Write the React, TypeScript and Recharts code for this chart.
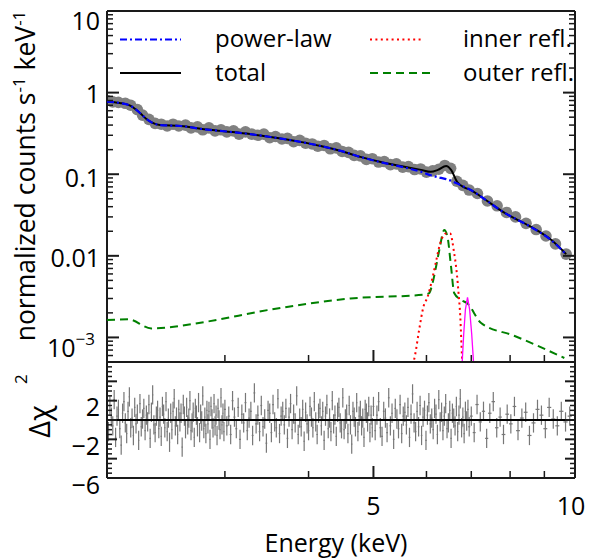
import React from "react";
import {
  ComposedChart, Line, Scatter, XAxis, YAxis, ErrorBar, ReferenceLine, Customized,
} from "recharts";

const FONT = "'Open Sans', sans-serif";
const INK = "#1a1a1a";

// x axis, energy in keV (log)
const xTicks = [2, 3, 4, 5, 6, 7, 8, 9, 10];
const xMajor = [2, 5, 10];
const xLabels = [5, 10];

// upper panel y axis (log)
const yDecades = [0.001, 0.01, 0.1, 1, 10];
const yLabelVals = [10, 1, 0.1, 0.01, 0.001];
const yLabelText = ["10", "1", "0.1", "0.01", "10^-3"];

// lower panel y axis
const resLabelVals = [2, -2, -6];
const resLabelText = ["2", "\u22122", "\u22126"];

// model curves (keV, counts/s/keV)
const modelE = [2.0, 2.09, 2.17, 2.24, 2.29, 2.34, 2.40, 2.58, 2.76, 3.06, 3.27, 3.51, 3.89, 4.17, 4.47, 4.78, 5.13, 5.49, 5.89, 6.09, 6.24, 6.42, 6.53, 6.67, 6.83, 6.99, 7.24, 7.83, 8.60, 9.21, 9.70];
const totalV = [0.775, 0.747, 0.687, 0.563, 0.476, 0.425, 0.400, 0.390, 0.360, 0.330, 0.310, 0.286, 0.249, 0.222, 0.193, 0.163, 0.141, 0.126, 0.113, 0.107, 0.113, 0.126, 0.113, 0.080, 0.069, 0.064, 0.053, 0.034, 0.0226, 0.0157, 0.0105];
const powerLawV = [0.775, 0.747, 0.687, 0.563, 0.476, 0.425, 0.400, 0.390, 0.360, 0.330, 0.310, 0.286, 0.249, 0.222, 0.193, 0.163, 0.140, 0.124, 0.107, 0.097, 0.092, 0.087, 0.083, 0.077, 0.070, 0.064, 0.053, 0.034, 0.0225, 0.0156, 0.0104];

const outerE = [2.00, 2.15, 2.33, 2.79, 3.47, 4.62, 5.95, 6.05, 6.13, 6.20, 6.27, 6.38, 6.45, 6.53, 6.60, 6.75, 6.91, 7.24, 8.11, 9.64];
const outerV = [0.00163, 0.00167, 0.00129, 0.00154, 0.00216, 0.00300, 0.00335, 0.00346, 0.0047, 0.0073, 0.0117, 0.0207, 0.0171, 0.0073, 0.0035, 0.0029, 0.0026, 0.00150, 0.00105, 0.00056];

const innerE = [5.70, 5.77, 5.85, 5.94, 6.02, 6.13, 6.20, 6.29, 6.42, 6.51, 6.59, 6.66, 6.70, 6.74, 6.78, 6.80];
const innerV = [0.0004, 0.00061, 0.00123, 0.0024, 0.0031, 0.0055, 0.0085, 0.0142, 0.0188, 0.0188, 0.0117, 0.0061, 0.0035, 0.0018, 0.00058, 0.0004];

const lineE = [6.78, 6.82, 6.86, 6.91, 6.96, 7.01, 7.06];
const lineV = [0.00045, 0.0011, 0.0022, 0.0031, 0.0022, 0.0011, 0.00045];

// data points
const dataE = [
  2.00, 2.04, 2.08, 2.13, 2.17, 2.22, 2.26, 2.31, 2.36, 2.41,
  2.46, 2.51, 2.56, 2.62, 2.67, 2.73, 2.78, 2.84, 2.90, 2.96,
  3.02, 3.09, 3.15, 3.22, 3.29, 3.36, 3.43, 3.50, 3.57, 3.65,
  3.72, 3.80, 3.88, 3.96, 4.05, 4.13, 4.22, 4.31, 4.40, 4.49,
  4.59, 4.68, 4.78, 4.88, 4.98, 5.09, 5.19, 5.30, 5.41, 5.53,
  5.64, 5.76, 5.88, 6.00, 6.13, 6.26, 6.39, 6.52, 6.66, 6.80,
  6.95, 7.15, 7.40, 7.65, 7.90, 8.15, 8.45, 8.75, 9.05, 9.35, 9.70,
];
const dataV = [
  0.80, 0.77, 0.76, 0.74, 0.70, 0.62, 0.53, 0.47, 0.42, 0.41,
  0.39, 0.41, 0.39, 0.40, 0.37, 0.38, 0.35, 0.37, 0.34, 0.35,
  0.33, 0.34, 0.31, 0.33, 0.31, 0.30, 0.31, 0.28, 0.29, 0.27,
  0.275, 0.25, 0.26, 0.24, 0.235, 0.22, 0.225, 0.205, 0.21, 0.19,
  0.185, 0.17, 0.168, 0.152, 0.155, 0.141, 0.143, 0.131, 0.134, 0.122,
  0.124, 0.114, 0.116, 0.106, 0.110, 0.115, 0.128, 0.118, 0.082, 0.073,
  0.064, 0.058, 0.047, 0.041, 0.034, 0.030, 0.025, 0.021, 0.0175, 0.0140, 0.0105,
];

// residuals (delta chi), bin centres in keV
const resE = [
  2.00, 2.01, 2.02, 2.03, 2.04, 2.05, 2.06, 2.07, 2.08, 2.09,
  2.10, 2.11, 2.12, 2.13, 2.14, 2.15, 2.16, 2.17, 2.18, 2.19,
  2.20, 2.21, 2.22, 2.23, 2.24, 2.25, 2.26, 2.27, 2.28, 2.29,
  2.30, 2.31, 2.32, 2.33, 2.34, 2.35, 2.36, 2.37, 2.38, 2.39,
  2.40, 2.41, 2.42, 2.43, 2.44, 2.45, 2.46, 2.47, 2.48, 2.49,
  2.50, 2.51, 2.52, 2.53, 2.54, 2.55, 2.56, 2.57, 2.58, 2.59,
  2.60, 2.61, 2.62, 2.63, 2.64, 2.65, 2.66, 2.67, 2.68, 2.69,
  2.70, 2.71, 2.72, 2.73, 2.74, 2.75, 2.76, 2.77, 2.78, 2.79,
  2.80, 2.81, 2.82, 2.83, 2.84, 2.85, 2.86, 2.87, 2.88, 2.89,
  2.90, 2.91, 2.92, 2.93, 2.94, 2.95, 2.96, 2.97, 2.98, 2.99,
  3.00, 3.02, 3.04, 3.06, 3.08, 3.10, 3.12, 3.14, 3.16, 3.18,
  3.20, 3.22, 3.24, 3.26, 3.28, 3.30, 3.32, 3.34, 3.36, 3.38,
  3.40, 3.42, 3.44, 3.46, 3.48, 3.50, 3.52, 3.54, 3.56, 3.58,
  3.60, 3.62, 3.64, 3.66, 3.68, 3.70, 3.72, 3.74, 3.76, 3.78,
  3.80, 3.82, 3.84, 3.86, 3.88, 3.90, 3.92, 3.94, 3.96, 3.98,
  4.00, 4.02, 4.04, 4.06, 4.08, 4.10, 4.12, 4.14, 4.16, 4.18,
  4.20, 4.22, 4.24, 4.26, 4.28, 4.30, 4.32, 4.34, 4.36, 4.38,
  4.40, 4.42, 4.44, 4.46, 4.48, 4.50, 4.52, 4.54, 4.56, 4.58,
  4.60, 4.62, 4.64, 4.66, 4.68, 4.70, 4.72, 4.74, 4.76, 4.78,
  4.80, 4.82, 4.84, 4.86, 4.88, 4.90, 4.92, 4.94, 4.96, 4.98,
  5.00, 5.03, 5.06, 5.09, 5.12, 5.15, 5.18, 5.21, 5.24, 5.27,
  5.30, 5.33, 5.36, 5.39, 5.42, 5.45, 5.48, 5.51, 5.54, 5.57,
  5.60, 5.63, 5.66, 5.69, 5.72, 5.75, 5.78, 5.81, 5.84, 5.87,
  5.90, 5.93, 5.96, 5.99, 6.02, 6.05, 6.08, 6.11, 6.14, 6.17,
  6.20, 6.23, 6.26, 6.29, 6.32, 6.35, 6.38, 6.41, 6.44, 6.47,
  6.50, 6.53, 6.56, 6.59, 6.62, 6.65, 6.68, 6.71, 6.74, 6.77,
  6.80, 6.83, 6.86, 6.89, 6.92, 6.95,
  7.00, 7.07, 7.14, 7.22, 7.30, 7.38, 7.46, 7.55, 7.64, 7.73,
  7.82, 7.92, 8.02, 8.12, 8.22, 8.33, 8.44, 8.55, 8.67, 8.79,
  8.91, 9.03, 9.15, 9.28, 9.41, 9.54, 9.68, 9.82,
];
const resV = [
  0.8, -1.2, 1.5, 0.3, -0.6, 2.1, -1.8, 0.4, 1.1, -0.9,
  -2.6, 0.7, 1.9, -0.3, -1.4, 0.9, 2.4, -0.8, 0.2, -1.6,
  1.3, -0.4, 0.6, -2.1, 1.7, -0.7, 0.1, 1.2, -1.1, 0.5,
  -0.2, 1.6, -1.9, 0.8, 2.6, -0.5, -1.3, 0.4, 1.0, -0.9,
  0.3, -1.7, 1.4, 0.6, -0.8, 1.9, -1.2, 0.2, -2.3, 0.7,
  -1.0, 0.9, 2.2, -0.6, 0.3, -1.5, 1.1, -0.2, 0.7, -2.8,
  1.6, 0.4, -0.9, 1.3, -0.5, 0.2, 2.0, -1.1, -0.3, 0.8,
  -1.8, 1.2, 0.5, -0.7, 1.8, -1.3, 0.6, -0.1, 2.5, -0.9,
  0.3, -1.4, 1.0, -0.4, 0.9, -2.0, 1.4, 0.1, -0.8, 1.7,
  -0.6, 0.5, -1.6, 1.2, 0.0, -1.0, 2.3, -0.5, 0.7, -1.2,
  1.1, -0.6, 0.4, -1.5, 2.0, 0.3, -0.9, 1.3, -2.0, 0.6,
  -0.3, 1.8, -1.1, 0.2, 0.9, -1.6, 2.8, -0.4, 0.5, -1.2,
  1.5, -0.7, 0.1, -2.4, 1.0, 0.7, -1.3, 1.6, -0.2, -0.8,
  2.2, -1.4, 0.4, 0.9, -0.5, 1.2, -1.9, 0.3, 1.7, -1.0,
  0.6, -0.3, 2.5, -1.5, 0.2, -0.7, 1.1, -2.2, 0.8, -0.4,
  -1.1, 1.4, 0.3, -0.8, 1.9, -0.2, -1.5, 0.7, 1.2, -0.6,
  0.9, -2.1, 0.4, 1.6, -0.9, 0.2, -1.2, 2.0, -0.4, 0.5,
  -1.7, 0.8, 1.3, -0.3, -0.9, 2.3, -1.0, 0.1, 0.6, -1.4,
  1.5, -0.5, -2.5, 0.9, 0.3, -0.7, 1.8, -1.2, 0.4, 1.0,
  -0.6, 0.2, -1.8, 1.1, 0.7, -0.2, 1.4, -1.3, 0.5, -0.8,
  1.4, -1.1, 0.5, 1.9, -0.8, -1.7, 0.9, 0.2, -1.3, 2.3,
  -0.6, 0.7, -2.0, 1.2, 0.1, -0.9, 1.6, -1.4, 0.4, 0.8,
  -0.5, 1.3, -1.8, 0.6, 2.7, -0.3, -1.2, 0.9, -0.7, 1.5,
  -1.6, 0.3, 1.0, -2.1, 0.5, 1.8, -0.4, 0.2, -1.0, 1.2,
  0.6, -1.5, 2.1, -0.2, 0.8, -1.1, 0.4, 1.7, -0.9, -0.3,
  1.0, -1.9, 0.7, 0.2, -0.6, 1.4, -1.2, 0.5, 2.2, -0.8,
  0.3, -1.4, 0.9, -0.1, 1.1, -0.7,
  0.4, -1.3, 1.6, -0.2, 0.9, -1.9, 0.7, 1.9, -0.8, 0.3,
  -1.5, 0.6, -0.4, 1.4, -1.1, 0.2, 0.8, -1.6, -0.3, 1.1,
  0.5, -0.9, 1.3, 0.1, -0.6, 0.9, -0.2, 0.4,
];

const pairs = (es: number[], vs: number[]) => es.map((e, i) => ({ e, v: vs[i] }));
const totalData = pairs(modelE, totalV);
const powerLawData = pairs(modelE, powerLawV);
const outerData = pairs(outerE, outerV);
const innerData = pairs(innerE, innerV);
const lineData = pairs(lineE, lineV);
const spectrum = pairs(dataE, dataV);
// delta-chi error bars are +-1, x bars span the bin
const residuals = resE.map((e, i) => ({
  e,
  r: resV[i],
  ey: 1,
  ex: i < resE.length - 1 ? (resE[i + 1] - e) / 2 : (e - resE[i - 1]) / 2,
}));

const specTicks: number[] = [];
[0.0001, ...yDecades].forEach((d) => {
  for (let m = 1; m <= 9; m++) {
    const t = +(d * m).toPrecision(4);
    if (t >= 0.0005 && t <= 10) specTicks.push(t);
  }
});
const resTicks: number[] = [];
for (let i = -12; i <= 12; i++) resTicks.push(i / 2);

function XTickMark({ x, y, payload, dir, showLabel }: any) {
  const v = payload.value;
  const major = xMajor.includes(v);
  const len = major ? 12 : 7;
  return (
    <g>
      <line x1={x} x2={x} y1={y} y2={y + dir * len} stroke={INK} strokeWidth={major ? 2 : 1.5} />
      {showLabel && xLabels.includes(v) && (
        <text x={v === 10 ? x - 4 : x} y={y + 27} textAnchor="middle" dominantBaseline="central"
          fontSize={25} fontFamily={FONT} fill="#000">{v}</text>
      )}
    </g>
  );
}

const specShift = [9, 0, 2.5, 1.5, 10];

function SpecYTick({ x, y, payload, side }: any) {
  const v = payload.value;
  const major = yDecades.includes(v);
  const dir = side === "left" ? 1 : -1;
  const idx = yLabelVals.indexOf(v);
  const txt = yLabelText[idx];
  return (
    <g>
      <line x1={x} x2={x + dir * (major ? 12 : 6)} y1={y} y2={y} stroke={INK} strokeWidth={major ? 2 : 1.5} />
      {side === "left" && idx >= 0 && (
        txt.includes("^") ? (
          <text x={x - 12} y={y + specShift[idx]} textAnchor="end" dominantBaseline="central"
            fontSize={25} fontFamily={FONT} fill="#000">
            10<tspan dy={-9} fontSize={17}>{"\u2212" + txt.split("^-")[1]}</tspan>
          </text>
        ) : (
          <text x={x - 7} y={y + specShift[idx]} textAnchor="end" dominantBaseline="central"
            fontSize={25} fontFamily={FONT} fill="#000">{txt}</text>
        )
      )}
    </g>
  );
}

function ResYTick({ x, y, payload, side }: any) {
  const v = payload.value;
  const major = v % 2 === 0;
  const dir = side === "left" ? 1 : -1;
  const idx = resLabelVals.indexOf(v);
  return (
    <g>
      <line x1={x} x2={x + dir * (major ? 10 : 5)} y1={y} y2={y} stroke={INK} strokeWidth={major ? 2 : 1.5} />
      {side === "left" && idx >= 0 && (
        <text x={x - 7} y={y + 5.5} textAnchor="end" dominantBaseline="central"
          fontSize={25} fontFamily={FONT} fill="#000">{resLabelText[idx]}</text>
      )}
    </g>
  );
}

const TopDecor = () => (
  <g fontFamily={FONT} fill="#000">
    <text transform="rotate(-90 35 176)" x={35} y={176} textAnchor="middle" fontSize={26.5}>
      normalized counts s<tspan dy={-10} fontSize={17}>-1</tspan>
      <tspan dy={10}> keV</tspan><tspan dy={-10} fontSize={17}>-1</tspan>
    </text>
    <g fontSize={24}>
      <line x1={120} x2={181} y1={39.5} y2={39.5} stroke="#0000ff" strokeWidth={2.2} strokeDasharray="7 3 2 3" />
      <text x={215} y={47}>power-law</text>
      <line x1={120} x2={181} y1={73} y2={73} stroke="#000" strokeWidth={2} />
      <text x={215} y={81}>total</text>
      <line x1={370} x2={424} y1={39.5} y2={39.5} stroke="#ff0000" strokeWidth={2} strokeDasharray="2 3.4" />
      <text x={463} y={47}>inner refl.</text>
      <line x1={370} x2={430} y1={73} y2={73} stroke="#008000" strokeWidth={2} strokeDasharray="8 5" />
      <text x={463} y={81}>outer refl.</text>
    </g>
  </g>
);

const BottomDecor = () => (
  <g fontFamily={FONT} fill="#000">
    <text x={336} y={191} textAnchor="middle" fontSize={25}>Energy (keV)</text>
    <text transform="rotate(-90 50 45)" x={50} y={45} textAnchor="middle" fontSize={29}>
      {"\u0394\u03c7"}<tspan dx={21} dy={-23} fontSize={17}>2</tspan>
    </text>
  </g>
);

const frame = { stroke: INK, strokeWidth: 2 };

export default function App() {
  return (
    <div style={{ position: "absolute", left: 0, top: 0, width: 589, height: 559, background: "#fff" }}>
      <div style={{ position: "absolute", left: 0, top: 0 }}>
        <ComposedChart width={589} height={363} margin={{ top: 10, right: 0, bottom: 0, left: 0 }}>
          <XAxis xAxisId={0} type="number" dataKey="e" scale="log" domain={[2, 10]} allowDataOverflow
            ticks={xTicks} interval={0} height={1} tickSize={0} tickMargin={0} tickLine={false}
            axisLine={frame} tick={<XTickMark dir={-1} />} />
          <XAxis xAxisId="t" orientation="top" type="number" scale="log" domain={[2, 10]} allowDataOverflow
            ticks={xTicks} interval={0} height={1} tickSize={0} tickMargin={0} tickLine={false}
            axisLine={frame} tick={<XTickMark dir={1} />} />
          <YAxis yAxisId={0} type="number" dataKey="v" scale="log" domain={[0.0005, 10]} allowDataOverflow
            ticks={specTicks} interval={0} width={107} tickSize={0} tickMargin={0} tickLine={false}
            axisLine={frame} tick={<SpecYTick side="left" />} />
          <YAxis yAxisId="r" orientation="right" type="number" scale="log" domain={[0.0005, 10]} allowDataOverflow
            ticks={specTicks} interval={0} width={14} tickSize={0} tickMargin={0} tickLine={false}
            axisLine={frame} tick={<SpecYTick side="right" />} />
          <Scatter data={spectrum} dataKey="v" isAnimationActive={false} zIndex={100}
            shape={(p: any) => <circle cx={p.cx} cy={p.cy} r={5.8} fill="#808080" />} />
          <Line data={totalData} dataKey="v" type="monotone" stroke="#000" strokeWidth={2}
            dot={false} isAnimationActive={false} zIndex={700} />
          <Line data={powerLawData} dataKey="v" type="monotone" stroke="#0000ff" strokeWidth={2.2}
            strokeDasharray="7 3 2 3" dot={false} isAnimationActive={false} zIndex={710} />
          <Line data={outerData} dataKey="v" type="monotone" stroke="#008000" strokeWidth={2}
            strokeDasharray="8 5" dot={false} isAnimationActive={false} zIndex={720} />
          <Line data={innerData} dataKey="v" type="monotone" stroke="#ff0000" strokeWidth={2}
            strokeDasharray="2 3.4" dot={false} isAnimationActive={false} zIndex={730} />
          <Line data={lineData} dataKey="v" type="linear" stroke="#ff00ff" strokeWidth={1.3}
            dot={false} isAnimationActive={false} zIndex={740} />
          <Customized component={TopDecor} />
        </ComposedChart>
      </div>
      <div style={{ position: "absolute", left: 0, top: 361 }}>
        <ComposedChart width={589} height={198} margin={{ top: 0, right: 0, bottom: 0, left: 0 }}>
          <XAxis xAxisId={0} type="number" dataKey="e" scale="log" domain={[2, 10]} allowDataOverflow
            ticks={xTicks} interval={0} height={81} tickSize={0} tickMargin={0} tickLine={false}
            axisLine={frame} tick={<XTickMark dir={-1} showLabel />} />
          <XAxis xAxisId="t" orientation="top" type="number" scale="log" domain={[2, 10]} allowDataOverflow
            ticks={xTicks} interval={0} height={1} tickSize={0} tickMargin={0} tickLine={false}
            axisLine={frame} tick={<XTickMark dir={1} />} />
          <YAxis yAxisId={0} type="number" dataKey="r" domain={[-6, 6]} allowDataOverflow
            ticks={resTicks} interval={0} width={107} tickSize={0} tickMargin={0} tickLine={false}
            axisLine={frame} tick={<ResYTick side="left" />} />
          <YAxis yAxisId="r" orientation="right" type="number" domain={[-6, 6]} allowDataOverflow
            ticks={resTicks} interval={0} width={14} tickSize={0} tickMargin={0} tickLine={false}
            axisLine={frame} tick={<ResYTick side="right" />} />
          <Scatter data={residuals} dataKey="r" isAnimationActive={false} shape={() => <g />}>
            <ErrorBar dataKey="ey" direction="y" width={0} stroke="#777" strokeWidth={1.2} />
            <ErrorBar dataKey="ex" direction="x" width={0} stroke="#777" strokeWidth={1.2} />
          </Scatter>
          <ReferenceLine y={0} stroke="#000" strokeWidth={2} />
          <Customized component={BottomDecor} />
        </ComposedChart>
      </div>
    </div>
  );
}
